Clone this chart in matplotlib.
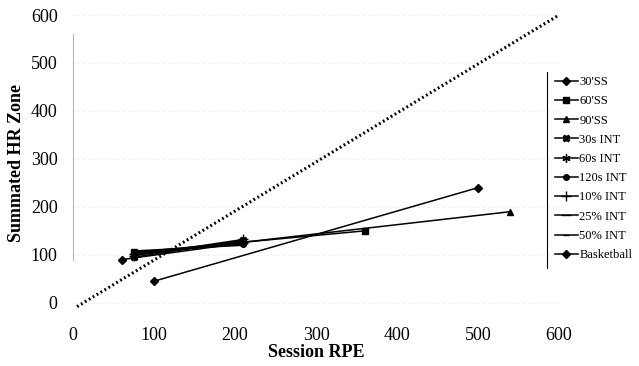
import matplotlib
matplotlib.use("Agg")
import matplotlib.pyplot as plt
from matplotlib.lines import Line2D

plt.rcParams["font.family"] = ["Liberation Serif", "DejaVu Serif"]

# session RPE (x) vs summated HR zone (y), start and end point of each session type
labels = ["30'SS", "60'SS", "90'SS", "30s INT", "60s INT", "120s INT",
          "10% INT", "25% INT", "50% INT", "Basketball"]
x_vals = [[60, 210], [75, 360], [75, 540], [75, 210], [75, 210],
          [75, 210], [75, 210], [75, 210], [75, 210], [100, 500]]
y_vals = [[90, 125], [105, 150], [100, 190], [95, 130], [100, 128],
          [105, 122], [98, 132], [102, 125], [108, 120], [45, 240]]
markers = ["D", "s", "^", "X", (6, 2, 0), "o", "+", "_", "_", "D"]
msizes = [4, 5, 5, 5, 6, 4, 7, 7, 5, 4]

# line of identity
ident_x = [5, 600]
ident_y = [-8, 600]

xticks = [0, 100, 200, 300, 400, 500, 600]
yticks = [0, 100, 200, 300, 400, 500, 600]

fig = plt.figure(figsize=(6.39, 3.66), dpi=100)
ax = fig.add_axes([73 / 639, 1 - 310 / 366, 486 / 639, 295 / 366])

for yv in yticks:
    ax.axhline(yv, color="#d0d0d0", lw=0.6, ls=(0, (1, 5)), zorder=0)

for i in range(len(labels)):
    ax.plot(x_vals[i], y_vals[i], color="black", lw=1.1, marker=markers[i],
            markersize=msizes[i], markeredgecolor="black", markerfacecolor="black",
            label=labels[i])

ax.plot(ident_x, ident_y, color="black", lw=2.2, ls=(0, (0.6, 0.9)))

ax.set_xlim(0, 600)
ax.set_ylim(-15, 600)
ax.set_xticks(xticks)
ax.set_yticks(yticks)
ax.tick_params(length=0, labelsize=13)
ax.tick_params(axis="x", pad=12)
ax.tick_params(axis="y", pad=11)

for s in ["top", "right", "bottom"]:
    ax.spines[s].set_visible(False)
ax.spines["left"].set_color("#b8b8b8")
ax.spines["left"].set_linewidth(0.8)
ax.spines["left"].set_bounds(90, 560)

ax.set_xlabel("Session RPE", fontsize=13, fontweight="bold", labelpad=0)
ax.set_ylabel("Summated HR Zone", fontsize=13, fontweight="bold", labelpad=4)

ax.legend(loc="upper left", bbox_to_anchor=(555 / 639, 1 - 76 / 366),
          bbox_transform=fig.transFigure, frameon=False, fontsize=9,
          handlelength=1.8, handletextpad=0.15, labelspacing=0.58,
          borderpad=0, borderaxespad=0)
fig.add_artist(Line2D([547 / 639, 547 / 639], [1 - 72 / 366, 1 - 268 / 366],
                      color="black", lw=0.8, transform=fig.transFigure))

fig.savefig("out.png", dpi=100)
